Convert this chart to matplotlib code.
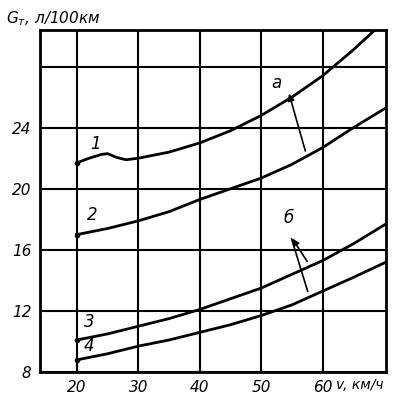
import numpy as np
from matplotlib import pyplot as plt

# speed, km/h
v1 = [20, 22, 24, 25, 26.5, 28, 30, 35, 40, 45, 50, 55, 60, 65, 68.5]
g1 = [21.7, 22.0, 22.25, 22.3, 22.05, 21.9, 22.0, 22.4, 23.0, 23.8, 24.8, 26.0, 27.4, 29.1, 30.4]

v2 = [20, 25, 30, 35, 40, 45, 50, 55, 60, 65, 70.3]
g2 = [17.0, 17.4, 17.9, 18.5, 19.3, 20.0, 20.7, 21.6, 22.7, 24.0, 25.3]
g3 = [10.1, 10.5, 11.0, 11.5, 12.1, 12.8, 13.5, 14.4, 15.3, 16.4, 17.7]
g4 = [8.8, 9.2, 9.7, 10.1, 10.6, 11.1, 11.7, 12.4, 13.3, 14.2, 15.2]

xticks = [20, 30, 40, 50, 60]
yticks = [8, 12, 16, 20, 24]
ygrid = [8, 12, 16, 20, 24, 28]

plt.rcParams['font.family'] = ['DejaVu Sans']

fig = plt.figure(figsize=(4.0, 4.04), dpi=100)
ax = fig.add_axes([0.1, 0.079, 0.865, 0.847])

for x in xticks:
    ax.axvline(x, color='black', lw=1.5, zorder=1)
for y in ygrid:
    ax.axhline(y, color='black', lw=1.5, zorder=1)

for v, g in [(v1, g1), (v2, g2), (v2, g3), (v2, g4)]:
    ax.plot(v, g, color='black', lw=2, zorder=3, clip_on=True)
    ax.plot(v[0], g[0], 'o', color='black', ms=3, zorder=3)

ax.set_xlim(14, 70.3)
ax.set_ylim(8, 30.4)
ax.set_xticks(xticks)
ax.set_yticks(yticks)
ax.tick_params(length=0, labelsize=11, pad=6)
for lab in ax.get_xticklabels() + ax.get_yticklabels():
    lab.set_fontstyle('italic')
for s in ax.spines.values():
    s.set_linewidth(2)

lbl = dict(fontsize=12, fontstyle='italic', ha='center', va='center')
ax.text(23, 22.9, "1", **lbl)
ax.text(22.5, 18.3, "2", **lbl)
ax.text(22, 11.3, "3", **lbl)
ax.text(22, 9.7, "4", **lbl)
ax.text(52.4, 26.9, "а", **lbl)
ax.text(54.4, 18.1, "б", **lbl)

ax.annotate("", xy=(54.4, 26.4), xytext=(57.3, 22.3),
            arrowprops=dict(arrowstyle='-|>', color='black', lw=1.2, mutation_scale=10))
ax.annotate("", xy=(54.8, 16.9), xytext=(57.7, 15.1),
            arrowprops=dict(arrowstyle='-|>', color='black', lw=1.2, mutation_scale=10))
ax.annotate("", xy=(54.8, 16.9), xytext=(57.7, 13.1),
            arrowprops=dict(arrowstyle='-', color='black', lw=1.2))

fig.text(0.015, 0.955, "G$_т$, л/100км", fontsize=11, fontstyle='italic', va='center')
fig.text(0.84, 0.047, "v, км/ч", fontsize=10, fontstyle='italic', va='center')

fig.savefig("out.png", dpi=100)
